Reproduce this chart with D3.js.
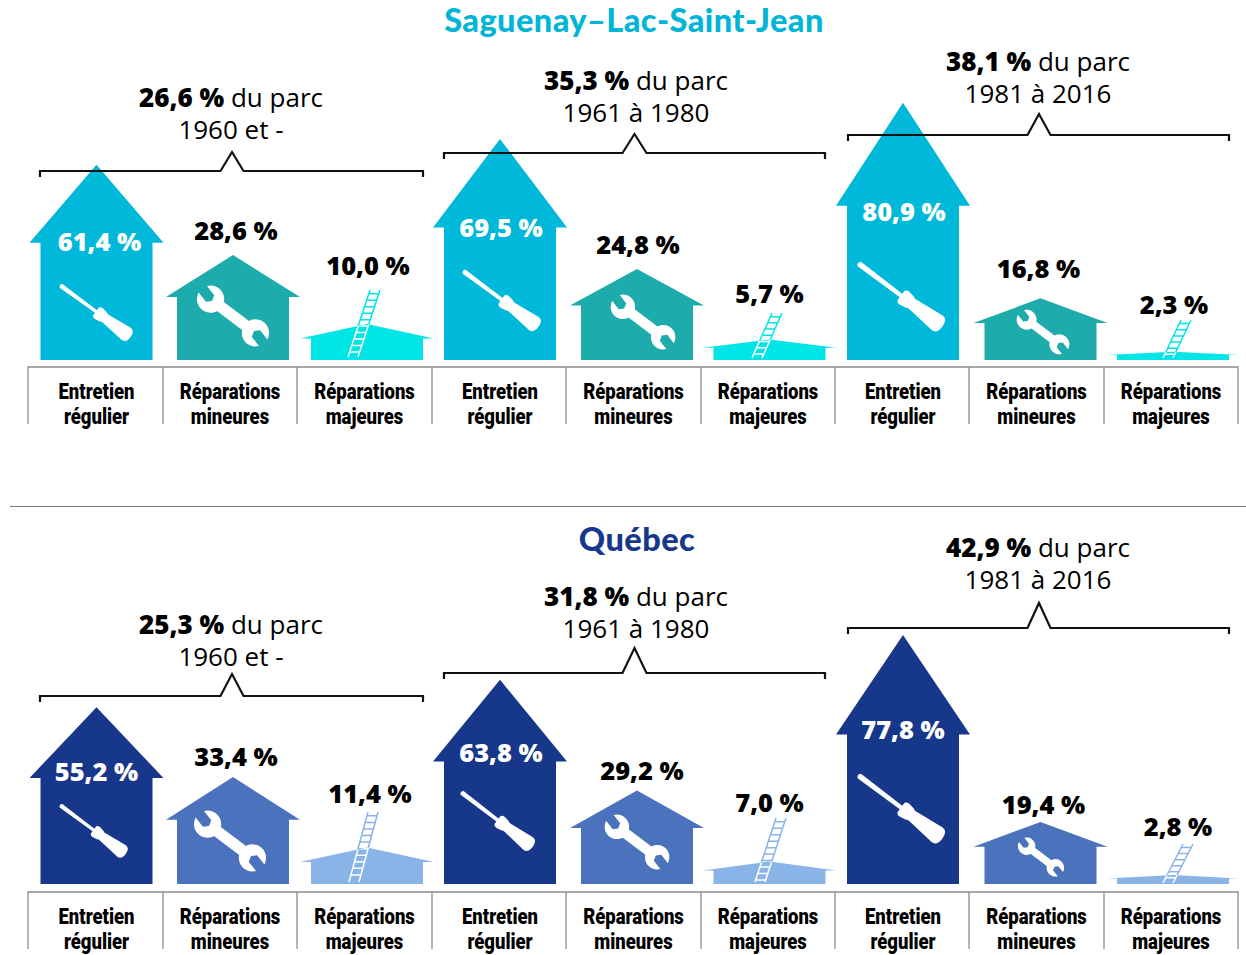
<!DOCTYPE html>
<html><head><meta charset="utf-8">
<script src="https://cdn.jsdelivr.net/npm/d3@7"></script>
<style>html,body{margin:0;padding:0;background:#fff}svg{display:block}</style>
</head><body><div id="chart"></div>
<script>
const categories = [["Entretien","régulier"],["Réparations","mineures"],["Réparations","majeures"]];
const regions = ["Saguenay–Lac-Saint-Jean","Québec"];
const cohortLabels = ["1960 et -","1961 à 1980","1981 à 2016"];
const saguenayShares = ["26,6 %","35,3 %","38,1 %"];
const quebecShares = ["25,3 %","31,8 %","42,9 %"];
const saguenayValues = [61.4,28.6,10.0,69.5,24.8,5.7,80.9,16.8,2.3];
const quebecValues = [55.2,33.4,11.4,63.8,29.2,7.0,77.8,19.4,2.8];

// ---- layout (separate from data) ----
const W=1246,H=955;
const svg=d3.select("#chart").append("svg").attr("width",W).attr("height",H);
const houseX=[96.5,233,367,500,637,769.5,903,1040.5,1173];
const xAxisTicks=[28,163,297,432,566,701,835,969,1104,1238];
const font='"Open Sans",sans-serif';
const panels=[
 {title:regions[0],titleX:634,titleY:20,titleColor:"#00b5d6",values:saguenayValues,shares:saguenayShares,
  base:360,axisY:367,axisEnd:424,colors:["#00b8d9","#1dabab","#00e5e5"],
  pxPer100:[318,367,360],
  labelDy:[77,-24,-58,89,-24,-46,109,-30,-47],labelDx:[3,3,1,1,1,0,1,-2,1],
  brackets:[{x0:40,x1:423,y:171,px:232,py:152,hw:11.5,ty:98},{x0:444,x1:825,y:153,px:634.5,py:134,hw:12,ty:81},{x0:848,x1:1229,y:135,px:1039,py:114,hw:11.5,ty:62}],
  textX:[231,636,1038],
  icons:[{t:"s",a:[60,285],b:[132,338]},{t:"w",c:[233,316],l:78},{t:"l",a:[375,290],b:[353,357]},
         {t:"s",a:[463,271],b:[540,328]},{t:"w",c:[643,322],l:70},{t:"l",a:[777,313],b:[757,358]},
         {t:"s",a:[858,263],b:[944,328]},{t:"w",c:[1043,332],l:57},{t:"l",a:[1186,320],b:[1168,358]}]},
 {title:regions[1],titleX:637,titleY:539,titleColor:"#17378a",values:quebecValues,shares:quebecShares,
  base:884,axisY:892,axisEnd:949,colors:["#17378a","#4b72bd","#8ab4e8"],
  pxPer100:[320,320,320],
  labelDy:[64,-20,-54,73,-20,-59,95,-17,-48],labelDx:[0,3,3,1,5,0,0,3,5],
  brackets:[{x0:40,x1:423,y:696,px:232,py:674,hw:11.5,ty:625},{x0:444,x1:825,y:673,px:634.5,py:648,hw:12,ty:597},{x0:848,x1:1229,y:628,px:1039,py:603,hw:11.5,ty:548}],
  textX:[231,636,1038],
  icons:[{t:"s",a:[60,805],b:[127,855]},{t:"w",c:[230,841],l:78},{t:"l",a:[373,812],b:[354,882]},
         {t:"s",a:[461,792],b:[534,848]},{t:"w",c:[637,842],l:70},{t:"l",a:[781,818],b:[760,882]},
         {t:"s",a:[858,775],b:[944,840]},{t:"w",c:[1041,857],l:50},{t:"l",a:[1188,844],b:[1168,883]}]}
];
const WALL=56, EAVE=67, ROOF=0.4;

function screwdriver(g,a,b){
  const dx=b[0]-a[0],dy=b[1]-a[1],len=Math.hypot(dx,dy),ang=Math.atan2(dy,dx)*180/Math.PI,k=len/100;
  g.append("path").attr("fill","#fff").attr("transform",`translate(${a[0]},${a[1]}) rotate(${ang}) scale(${k})`).attr("d",
   "M1.5,-2.6 L50,-1.9 L50,-5.5 Q51,-7.5 54,-7.5 L60,-6.5 Q62,-5 64,-5.5 L92,-8.5 Q98,-8.5 98,0 Q98,8.5 92,8.5 L64,5.5 Q62,5 60,6.5 L54,7.5 Q51,7.5 50,5.5 L50,1.9 L1.5,2.6 Q-1.5,0 1.5,-2.6Z");
}
function wrench(g,c,l){
  const k=l/100, r=17.5, w=6.8, dep=1, s=Math.sqrt(r*r-w*w);
  const head=(sx)=>{
    const cx=sx*36, phi=(sx<0?180:0)+15, t=phi*Math.PI/180, u=[Math.cos(t),Math.sin(t)], n=[-u[1],u[0]];
    const P=(a,b)=>[cx+u[0]*a+n[0]*b, u[1]*a+n[1]*b].join(",");
    return `M${P(s,w)}L${P(dep,w)}L${P(-3,0)}L${P(dep,-w)}L${P(s,-w)}A${r},${r} 0 1 0 ${P(s,w)}Z`;
  };
  const n=g.append("g").attr("transform",`translate(${c[0]},${c[1]}) rotate(37) scale(${k})`).attr("fill","#fff");
  n.append("path").attr("d",head(-1));
  n.append("path").attr("d",head(1));
  n.append("rect").attr("x",-24).attr("y",-7.3).attr("width",48).attr("height",14.6);
}
function ladder(g,a,b,col,clipId){
  const len=Math.hypot(b[0]-a[0],b[1]-a[1]),hw=5;
  const rungs=d3.range(4,len-1,6.8);
  let d=`M${a[0]+hw},${a[1]}L${b[0]+hw},${b[1]}M${a[0]-hw},${a[1]}L${b[0]-hw},${b[1]}`;
  rungs.forEach(r=>{const f=r/len,px=a[0]+(b[0]-a[0])*f,py=a[1]+(b[1]-a[1])*f;d+=`M${px-hw},${py}L${px+hw},${py}`;});
  g.append("path").attr("d",d).attr("fill","none").attr("stroke",col).attr("stroke-width",1.5);
  g.append("path").attr("d",d).attr("fill","none").attr("stroke","#fff").attr("stroke-width",1.5).attr("clip-path",`url(#${clipId})`);
}

panels.forEach((p,pi)=>{
  const g=svg.append("g");
  g.append("text").attr("x",p.titleX).attr("y",p.titleY).attr("dy","0.36em").attr("text-anchor","middle")
   .attr("font-family",'Lato,sans-serif').attr("font-weight",900).attr("font-size",32.5).attr("letter-spacing",0.45).attr("fill",p.titleColor).text(p.title);

  // category axis
  g.append("path").attr("fill","none").attr("stroke","#8c8c8c").attr("stroke-width",1.3)
   .attr("d",`M${xAxisTicks[0]},${p.axisEnd}L${xAxisTicks[0]},${p.axisY}L1238,${p.axisY}L1238,${p.axisEnd}`+
     xAxisTicks.slice(1,-1).map(x=>`M${x},${p.axisY}L${x},${p.axisEnd}`).join(""));
  d3.range(9).forEach(i=>{
    const cx=i%3===0?houseX[i]:(xAxisTicks[i]+xAxisTicks[i+1])/2;
    categories[i%3].forEach((t,j)=>g.append("text")
      .attr("transform",`translate(${cx},${p.axisY+24+j*25.5}) scale(0.86,1)`).attr("dy","0.36em").attr("text-anchor","middle")
      .attr("font-family",'Roboto,sans-serif').attr("font-weight",900).attr("font-size",21.5).attr("fill","#000").text(t));
  });

  // houses
  p.values.forEach((v,i)=>{
    const cat=i%3, yScale=d3.scaleLinear().domain([0,100]).range([p.base,p.base-p.pxPer100[cat]]);
    const x=houseX[i], top=yScale(v), h=p.base-top, eave=top+h*ROOF, col=p.colors[cat];
    const pts=[[x,top],[x+EAVE,eave],[x+WALL,eave],[x+WALL,p.base],[x-WALL,p.base],[x-WALL,eave],[x-EAVE,eave]];
    const hg=g.append("g");
    const clipId=`house-${pi}-${i}`;
    hg.append("clipPath").attr("id",clipId).append("polygon").attr("points",pts.join(" "));
    hg.append("polygon").attr("points",pts.join(" ")).attr("fill",col);
    const ic=p.icons[i];
    if(ic.t==="s") screwdriver(hg,ic.a,ic.b);
    if(ic.t==="w") wrench(hg,ic.c,ic.l);
    if(ic.t==="l") ladder(hg,ic.a,ic.b,col,clipId);
    hg.append("text").attr("x",x+p.labelDx[i]).attr("y",top+p.labelDy[i]).attr("dy","0.36em").attr("text-anchor","middle")
      .attr("font-family",font).attr("font-weight",800).attr("font-size",25.5)
      .attr("fill",cat===0?"#fff":"#000").text(d3.format(".1f")(v).replace(".",",")+" %");
  });

  // brackets
  p.brackets.forEach((b,i)=>{
    g.append("path").attr("fill","none").attr("stroke","#111").attr("stroke-width",2.2)
     .attr("d",`M${b.x0},${b.y+6}L${b.x0},${b.y}L${b.px-b.hw},${b.y}L${b.px},${b.py}L${b.px+b.hw},${b.y}L${b.x1},${b.y}L${b.x1},${b.y+6}`);
    const t=g.append("text").attr("x",p.textX[i]).attr("y",b.ty).attr("dy","0.36em").attr("text-anchor","middle")
     .attr("font-family",font).attr("font-size",26).attr("fill","#000");
    t.append("tspan").attr("font-weight",800).text(p.shares[i]);
    t.append("tspan").text(" du parc");
    g.append("text").attr("x",p.textX[i]).attr("y",b.ty+32).attr("dy","0.36em").attr("text-anchor","middle")
     .attr("font-family",font).attr("font-size",26).attr("fill","#000").text(cohortLabels[i]);
  });
});
svg.append("line").attr("x1",10).attr("x2",1246).attr("y1",506.5).attr("y2",506.5).attr("stroke","#777").attr("stroke-width",1);
</script></body></html>
